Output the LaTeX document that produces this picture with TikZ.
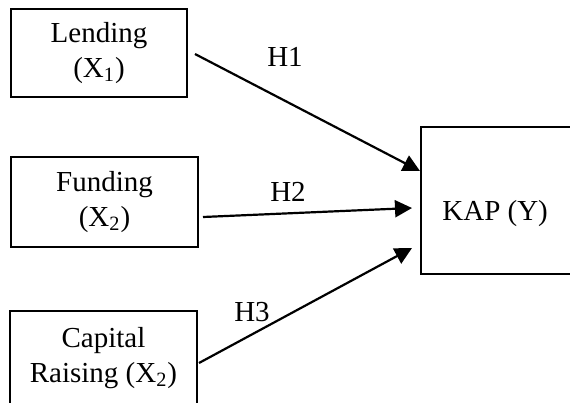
\documentclass[tikz,border=0pt]{standalone}
\usepackage{fontspec}
\setmainfont{Liberation Serif}
\usetikzlibrary{arrows.meta}
\begin{document}
\begin{tikzpicture}[x=0.5pt,y=-0.5pt,
  box/.style={draw, line width=1pt, inner sep=0pt, align=center,
    font=\fontsize{14.5}{17.5}\selectfont, execute at begin node={\rule{0pt}{14.5pt}}},
  txt/.style={inner sep=0pt, font=\fontsize{14.5}{16}\selectfont},
  link/.style={line width=1.1pt, -{Triangle[length=8.5pt,width=8.5pt]}}]
\useasboundingbox (0,0) rectangle (570,403);
% boxes
\node[box, minimum width=88pt, minimum height=44pt] (lend) at (99,53) {Lending\\(X\textsubscript{1})};
\node[box, minimum width=93.5pt, minimum height=45pt] (fund) at (104.5,202) {Funding\\(X\textsubscript{2})};
\node[box, minimum width=93.5pt, minimum height=47pt] (cap) at (103.5,358) {Capital\\Raising (X\textsubscript{2})};
\node[draw, line width=1pt, inner sep=0pt, minimum width=89.5pt, minimum height=73.5pt] (kap) at (510.5,200.5) {};
\node[txt, anchor=base west] (kapt) at (442,220) {KAP (Y)};
% connector end points
\coordinate (s1) at (195,54);
\coordinate (e1) at (420,171);
\coordinate (s2) at (203,217);
\coordinate (e2) at (412,208);
\coordinate (s3) at (199,363);
\coordinate (e3) at (412,248);
\draw[link] (s1) -- (e1);
\draw[link] (s2) -- (e2);
\draw[link] (s3) -- (e3);
% labels
\node[txt] (h1) at (285,57) {H1};
\node[txt] (h2) at (288,192) {H2};
\node[txt] (h3) at (252,312) {H3};
\end{tikzpicture}
\end{document}
